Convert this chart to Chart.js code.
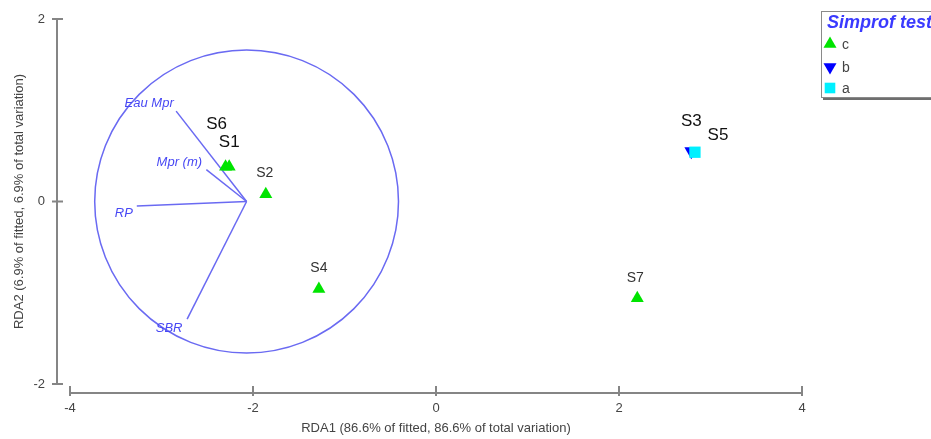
<!DOCTYPE html>
<html>
<head>
<meta charset="utf-8">
<script src="https://cdn.jsdelivr.net/npm/chart.js@4.4.0/dist/chart.umd.min.js"></script>
<style>
  html, body { margin: 0; padding: 0; background: #fff; overflow: hidden; }
  #wrap { position: relative; width: 931px; height: 439px; }
</style>
</head>
<body>
<div id="wrap"><canvas id="rdaChart" width="931" height="439"></canvas></div>
<script>
// Sample scores on the two RDA axes
const sampleNames = ['S1', 'S2', 'S3', 'S4', 'S5', 'S6', 'S7'];
const rda1 = [-2.26, -1.86, 2.79, -1.28, 2.83, -2.30, 2.20];
const rda2 = [0.38, 0.08, 0.55, -0.96, 0.54, 0.38, -1.06];
const simprofGroup = ['c', 'c', 'b', 'c', 'a', 'c', 'c'];

// Vector overlay (environmental variables)
const vectorNames = ['Eau Mpr', 'Mpr (m)', 'RP', 'SBR'];
const vectorEndX = [-2.84, -2.51, -3.27, -2.72];
const vectorEndY = [0.99, 0.35, -0.05, -1.29];
const vectorOrigin = [-2.07, 0];
const circleRadius = 1.66;

const xTicks = [-4, -2, 0, 2, 4];
const yTicks = [-2, 0, 2];
const legendGroups = ['c', 'b', 'a'];

const FONT = '"Liberation Sans", Arial, sans-serif';
const VECTOR_COLOR = '#6a6af2';

const groupStyle = {
  c: { pointStyle: 'triangle', rotation: 0, color: '#00e400', radius: 7.5 },
  b: { pointStyle: 'triangle', rotation: 180, color: '#0000ff', radius: 8 },
  a: { pointStyle: 'rect', rotation: 0, color: '#00f0ff', radius: 8 }
};

// label placement relative to each point, in pixels
const labelOffset = {
  S1: [0, -25], S2: [-1, -21], S3: [0, -30], S4: [0, -21],
  S5: [23, -17], S6: [-9, -43], S7: [-2, -20]
};
const bigLabels = ['S1', 'S3', 'S5', 'S6'];
const vectorLabelOffset = [[-27, -8], [-27, -7], [-13, 7], [-18, 9]];

function groupDataset(g) {
  const data = [];
  sampleNames.forEach((name, i) => {
    if (simprofGroup[i] === g) data.push({ x: rda1[i], y: rda2[i], name: name });
  });
  const st = groupStyle[g];
  return {
    label: g,
    data: data,
    pointStyle: st.pointStyle,
    rotation: st.rotation,
    pointRadius: st.radius,
    pointHoverRadius: st.radius,
    backgroundColor: st.color,
    borderColor: st.color,
    borderWidth: 0,
    showLine: false
  };
}

const vectorDatasets = vectorNames.map((name, i) => ({
  label: name,
  data: [{ x: vectorOrigin[0], y: vectorOrigin[1] }, { x: vectorEndX[i], y: vectorEndY[i] }],
  showLine: true,
  borderColor: VECTOR_COLOR,
  borderWidth: 1.5,
  pointRadius: 0,
  fill: false
}));

const overlayPlugin = {
  id: 'overlay',
  beforeDatasetsDraw(chart) {
    const { ctx, scales: { x, y } } = chart;
    const cx = x.getPixelForValue(vectorOrigin[0]);
    const cy = y.getPixelForValue(vectorOrigin[1]);
    const rx = Math.abs(x.getPixelForValue(vectorOrigin[0] + circleRadius) - cx);
    const ry = Math.abs(y.getPixelForValue(vectorOrigin[1] + circleRadius) - cy);
    ctx.save();
    ctx.strokeStyle = VECTOR_COLOR;
    ctx.lineWidth = 1.5;
    ctx.beginPath();
    ctx.ellipse(cx, cy, rx, ry, 0, 0, Math.PI * 2);
    ctx.stroke();
    ctx.restore();
  },
  afterDatasetsDraw(chart) {
    const { ctx, scales: { x, y } } = chart;
    ctx.save();
    ctx.textAlign = 'center';
    ctx.textBaseline = 'middle';
    // vector labels
    ctx.fillStyle = '#4848f4';
    ctx.font = 'italic 13px ' + FONT;
    vectorNames.forEach((name, i) => {
      const px = x.getPixelForValue(vectorEndX[i]) + vectorLabelOffset[i][0];
      const py = y.getPixelForValue(vectorEndY[i]) + vectorLabelOffset[i][1];
      ctx.fillText(name, px, py);
    });
    // sample labels
    chart.data.datasets.forEach((ds, di) => {
      const meta = chart.getDatasetMeta(di);
      ds.data.forEach((pt, j) => {
        if (!pt.name) return;
        const el = meta.data[j];
        const off = labelOffset[pt.name];
        const big = bigLabels.includes(pt.name);
        ctx.font = (big ? '17px ' : '14px ') + FONT;
        ctx.fillStyle = big ? '#111' : '#333';
        ctx.fillText(pt.name, el.x + off[0], el.y + off[1]);
      });
    });
    ctx.restore();
  },
  afterDraw(chart) {
    const { ctx, chartArea: area, scales: { x, y } } = chart;
    ctx.save();
    ctx.strokeStyle = '#858585';
    ctx.lineWidth = 2;
    // detached y axis
    const ax = area.left - 13;
    ctx.beginPath();
    ctx.moveTo(ax, y.getPixelForValue(yTicks[0]));
    ctx.lineTo(ax, y.getPixelForValue(yTicks[yTicks.length - 1]));
    yTicks.forEach(v => {
      const py = y.getPixelForValue(v);
      ctx.moveTo(ax - 5, py);
      ctx.lineTo(ax + 6, py);
    });
    ctx.stroke();
    // detached x axis
    const ay = area.bottom + 9;
    ctx.beginPath();
    ctx.moveTo(x.getPixelForValue(xTicks[0]), ay);
    ctx.lineTo(x.getPixelForValue(xTicks[xTicks.length - 1]), ay);
    xTicks.forEach(v => {
      const px = x.getPixelForValue(v);
      ctx.moveTo(px, ay - 7);
      ctx.lineTo(px, ay + 3);
    });
    ctx.stroke();

    // legend box
    const lx = 821, ly = 11, lw = 130, lh = 86;
    ctx.fillStyle = '#6e6e6e';
    ctx.fillRect(lx + 2, ly + 2, lw, lh + 1);
    ctx.fillStyle = '#fff';
    ctx.fillRect(lx, ly, lw, lh);
    ctx.strokeStyle = '#8a8a8a';
    ctx.lineWidth = 1;
    ctx.strokeRect(lx + 0.5, ly + 0.5, lw, lh);
    ctx.textBaseline = 'middle';
    ctx.textAlign = 'left';
    ctx.fillStyle = '#3a3aff';
    ctx.font = 'italic bold 18px ' + FONT;
    ctx.fillText('Simprof test', lx + 6, ly + 12);
    const rowY = [44, 67, 88];
    legendGroups.forEach((g, i) => {
      const st = groupStyle[g];
      ctx.fillStyle = st.color;
      ctx.strokeStyle = st.color;
      Chart.helpers.drawPoint(ctx, {
        pointStyle: st.pointStyle,
        rotation: st.rotation,
        radius: 7.5,
        borderWidth: 0
      }, lx + 9, rowY[i]);
      ctx.fillStyle = '#444';
      ctx.font = '14px ' + FONT;
      ctx.fillText(g, lx + 21, rowY[i] + 1);
    });
    ctx.restore();
  }
};

const tickFont = { family: FONT, size: 13 };
const hiddenTicks = { drawOnChartArea: false, drawTicks: true, color: 'rgba(0,0,0,0)' };

new Chart(document.getElementById('rdaChart'), {
  type: 'scatter',
  data: {
    datasets: [groupDataset('a'), groupDataset('b'), groupDataset('c')].concat(vectorDatasets)
  },
  options: {
    responsive: false,
    animation: false,
    events: [],
    layout: { padding: { top: 19, right: 129, left: 0, bottom: 0 } },
    plugins: { legend: { display: false }, tooltip: { enabled: false } },
    scales: {
      x: {
        type: 'linear',
        min: -4, max: 4,
        afterBuildTicks: s => { s.ticks = xTicks.map(v => ({ value: v })); },
        afterFit: s => { s.height = 55; },
        grid: Object.assign({ tickLength: 13 }, hiddenTicks),
        border: { display: false },
        ticks: { padding: 4, color: '#444', font: tickFont, maxRotation: 0 },
        title: {
          display: true,
          text: 'RDA1 (86.6% of fitted, 86.6% of total variation)',
          color: '#444',
          font: tickFont,
          padding: { top: 0, bottom: 3 }
        }
      },
      y: {
        type: 'linear',
        min: -2, max: 2,
        afterBuildTicks: s => { s.ticks = yTicks.map(v => ({ value: v })); },
        afterFit: s => { s.width = 70; },
        grid: Object.assign({ tickLength: 20 }, hiddenTicks),
        border: { display: false },
        ticks: { padding: 5, color: '#444', font: tickFont },
        title: {
          display: true,
          text: 'RDA2 (6.9% of fitted, 6.9% of total variation)',
          color: '#444',
          font: tickFont,
          padding: { top: 12, bottom: 0 }
        }
      }
    }
  },
  plugins: [overlayPlugin]
});
</script>
</body>
</html>
